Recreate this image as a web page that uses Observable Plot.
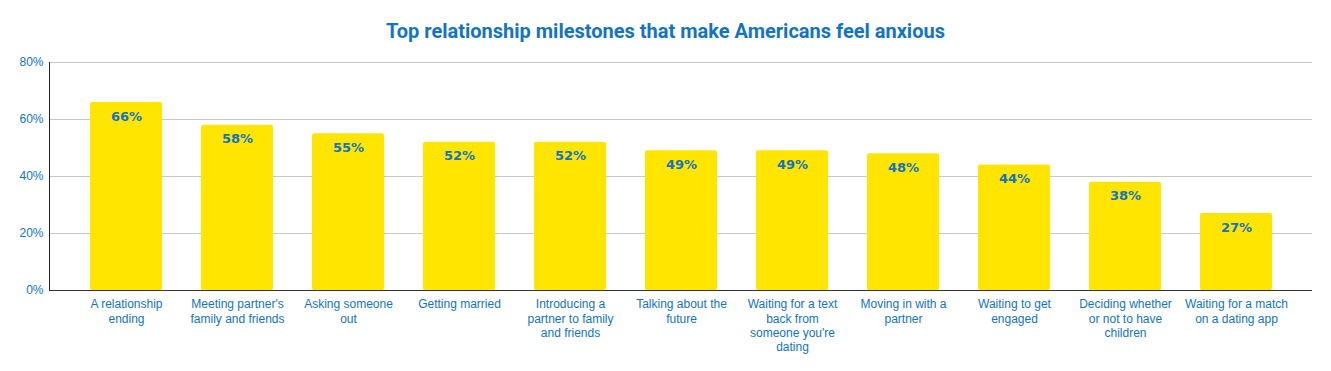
<!DOCTYPE html>
<html>
<head>
<meta charset="utf-8">
<script src="https://cdn.jsdelivr.net/npm/d3@7"></script>
<script src="https://cdn.jsdelivr.net/npm/@observablehq/plot@0.6"></script>
<style>
  body { margin: 0; background: #fff; }
  #title { height: 48px; box-sizing: border-box; padding-top: 20px; font: bold 20px Roboto, sans-serif; line-height: 22px; color: #1274c2; text-align: center; }
  svg { display: block; }
</style>
</head>
<body>
<div id="title">Top relationship milestones that make Americans feel anxious</div>
<div id="chart"></div>
<script>
const categories = [
  "A relationship\nending",
  "Meeting partner's\nfamily and friends",
  "Asking someone\nout",
  "Getting married",
  "Introducing a\npartner to family\nand friends",
  "Talking about the\nfuture",
  "Waiting for a text\nback from\nsomeone you're\ndating",
  "Moving in with a\npartner",
  "Waiting to get\nengaged",
  "Deciding whether\nor not to have\nchildren",
  "Waiting for a match\non a dating app"
];
const values = [66, 58, 55, 52, 52, 49, 49, 48, 44, 38, 27];
const yTicks = [0, 20, 40, 60, 80];

const data = categories.map((c, i) => ({ category: c, value: values[i] }));
const blue = "#1274c2";

const chart = Plot.plot({
  width: 1331,
  height: 323,
  marginTop: 14,
  marginBottom: 81,
  marginLeft: 49,
  marginRight: 19,
  style: { fontFamily: "'Liberation Sans', Arial, sans-serif", fontSize: "12px", color: blue },
  x: { domain: categories, paddingInner: 0.353, paddingOuter: 0.34, label: null },
  y: { domain: [0, 80], label: null },
  marks: [
    Plot.gridY(yTicks, { stroke: "#c8c8c8", strokeOpacity: 1 }),
    Plot.barY(data, { x: "category", y: "value", fill: "#ffe500", rx: 2 }),
    Plot.ruleY([0], { stroke: "#333" }),
    Plot.axisY(yTicks, { tickSize: 0, tickPadding: 6, tickFormat: d => d + "%", fill: blue, fontSize: 12, label: null }),
    Plot.axisX({ tickSize: 0, tickPadding: 8, fill: blue, fontSize: 12, lineHeight: 1.17, label: null }),
    Plot.text(data, { x: "category", y: "value", text: d => d.value + "%", dy: 14, fill: blue, fontWeight: "bold", fontSize: 13, fontFamily: "'DejaVu Sans', sans-serif" })
  ]
});
document.getElementById("chart").appendChild(chart);
// left axis line
d3.select(chart).append("line")
  .attr("x1", 49.5).attr("x2", 49.5).attr("y1", 14).attr("y2", 242)
  .attr("stroke", "#222");
</script>
</body>
</html>
